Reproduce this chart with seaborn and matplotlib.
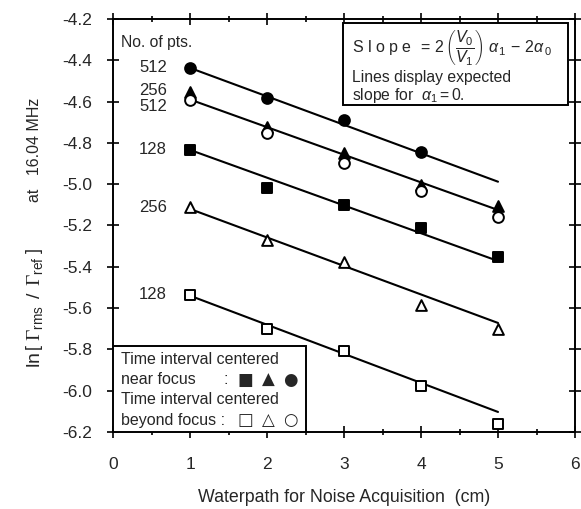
import matplotlib
matplotlib.use("Agg")
import matplotlib.pyplot as plt
import seaborn as sns
import pandas as pd
from matplotlib.ticker import MultipleLocator
from matplotlib.patches import Rectangle

# ---- data ----
waterpath = [1, 2, 3, 4, 5]
near_512_circle = [-4.437, -4.584, -4.689, -4.843]          # filled circles (no x=5 point)
near_256_triangle = [-4.552, -4.723, -4.849, -5.004, -5.106]  # filled triangles
near_128_square = [-4.834, -5.019, -5.100, -5.212, -5.352]    # filled squares
beyond_512_circle = [-4.592, -4.752, -4.897, -5.033, -5.159]  # open circles
beyond_256_triangle = [-5.110, -5.270, -5.377, -5.585, -5.701]  # open triangles
beyond_128_square = [-5.537, -5.700, -5.808, -5.977, -6.161]  # open squares

line_x = [1, 5]
line_512_near = [-4.437, -4.988]
line_256_near = [-4.590, -5.125]
line_128_near = [-4.834, -5.372]
line_256_beyond = [-5.120, -5.672]
line_128_beyond = [-5.540, -6.103]

pts_labels = ["512", "256", "512", "128", "256", "128"]
pts_label_y = [-4.437, -4.545, -4.625, -4.834, -5.115, -5.535]

yticks = [-6.2, -6.0, -5.8, -5.6, -5.4, -5.2, -5.0, -4.8, -4.6, -4.4, -4.2]
ytick_labels = ["-6.2", "-6.0", "-5.8", "-5.6", "-5.4", "-5.2", "-5.0",
                "-4.8", "-4.6", "-4.4", "-4.2"]

sns.set_style("ticks")
plt.rcParams["font.family"] = ["Liberation Sans", "DejaVu Sans"]
plt.rcParams["mathtext.fontset"] = "custom"
plt.rcParams["mathtext.rm"] = "Liberation Sans"
plt.rcParams["mathtext.it"] = "Liberation Sans:italic"
plt.rcParams["mathtext.bf"] = "Liberation Sans:bold"
plt.rcParams["mathtext.sf"] = "Liberation Serif"

fig = plt.figure(figsize=(5.81, 5.09), dpi=100)
ax = fig.add_axes([0.1945, 0.1513, 0.7952, 0.8114])

# lines
for ly in [line_512_near, line_256_near, line_128_near, line_256_beyond, line_128_beyond]:
    sns.lineplot(x=line_x, y=ly, ax=ax, color="black", linewidth=1.5, zorder=2)

# markers
series = [
    (waterpath[:4], near_512_circle, "o", True),
    (waterpath, near_256_triangle, "^", True),
    (waterpath, near_128_square, "s", True),
    (waterpath, beyond_512_circle, "o", False),
    (waterpath, beyond_256_triangle, "^", False),
    (waterpath, beyond_128_square, "s", False),
]
for xs, ys, m, filled in series:
    df = pd.DataFrame({"x": xs, "y": ys})
    sns.scatterplot(data=df, x="x", y="y", ax=ax, marker=m, s=60,
                    facecolor="black" if filled else "white",
                    edgecolor="black", linewidth=1.4, zorder=3)

ax.set_xlim(0, 6)
ax.set_ylim(-6.2, -4.2)
ax.xaxis.set_major_locator(MultipleLocator(1))
ax.xaxis.set_minor_locator(MultipleLocator(0.5))
ax.set_yticks(yticks)
ax.set_yticklabels(ytick_labels)
ax.tick_params(which="both", direction="inout", top=True, right=True,
               labelsize=12.5, color="black", width=1.2)
ax.tick_params(which="major", length=8)
ax.tick_params(which="minor", length=5)
ax.tick_params(axis="x", which="major", pad=14)
ax.tick_params(axis="y", which="major", pad=11)
for sp in ax.spines.values():
    sp.set_linewidth(1.4)
    sp.set_color("black")

ax.set_xlabel("Waterpath for Noise Acquisition  (cm)", fontsize=12.8, labelpad=12)
ax.set_ylabel("")
# y label in two parts (large bracketed ratio, smaller frequency note)
fig.text(0.060, 0.396,
         r"ln$\,\left[\;\mathsf{\Gamma}_{\rm rms}\;\,/\;\,\mathsf{\Gamma}_{\rm ref}\;\right]$",
         rotation=90, fontsize=14, ha="center", va="center")
fig.text(0.060, 0.706, "at   16.04 MHz", rotation=90, fontsize=11.5,
         ha="center", va="center")

# number of points annotations
ax.text(0.1, -4.316, "No. of pts.", fontsize=11.3, ha="left", va="center")
for lab, yy in zip(pts_labels, pts_label_y):
    ax.text(0.7, yy, lab, fontsize=12, ha="right", va="center")

# top right box
ax.add_patch(Rectangle((0.498, 0.792), 0.487, 0.198, transform=ax.transAxes,
                       facecolor="white", edgecolor="black", linewidth=1.4, zorder=4))
ax.text(0.517, 0.930,
        "S l o p e $\\,=\\, 2\\,\\left(\\dfrac{V_0}{V_1}\\right)\\;\\alpha_{\\,1}\\, -\\, 2\\alpha_{\\,0}$",
        transform=ax.transAxes, fontsize=11.5, ha="left", va="center", zorder=5)
ax.text(0.517, 0.858, "Lines display expected", transform=ax.transAxes,
        fontsize=11.3, ha="left", va="center", zorder=5)
ax.text(0.517, 0.815, "slope for  $\\alpha_1 = 0.$", transform=ax.transAxes,
        fontsize=11.3, ha="left", va="center", zorder=5)

# bottom left box
ax.add_patch(Rectangle((0.0, 0.0), 0.418, 0.208, transform=ax.transAxes,
                       facecolor="white", edgecolor="black", linewidth=1.4, zorder=4))
box_rows = [("Time interval centered", 0.176, ""),
            ("near focus", 0.126, "near"),
            ("Time interval centered", 0.078, ""),
            ("beyond focus :", 0.029, "beyond")]
for txt, yy, kind in box_rows:
    ax.text(0.018, yy, txt, transform=ax.transAxes, fontsize=11.5,
            ha="left", va="center", zorder=5)
    if kind:
        if kind == "near":
            ax.text(0.243, yy, ":", transform=ax.transAxes, fontsize=11.5,
                    ha="center", va="center", zorder=5)
            glyphs = ["\u25A0", "\u25B2", "\u25CF"]
        else:
            glyphs = ["\u25A1", "\u25B3", "\u25CB"]
        for gx, g in zip([0.286, 0.336, 0.383], glyphs):
            ax.text(gx, yy, g, transform=ax.transAxes, fontsize=12,
                    family="DejaVu Sans", ha="center", va="center", zorder=5)

fig.savefig("out.png", dpi=100)
